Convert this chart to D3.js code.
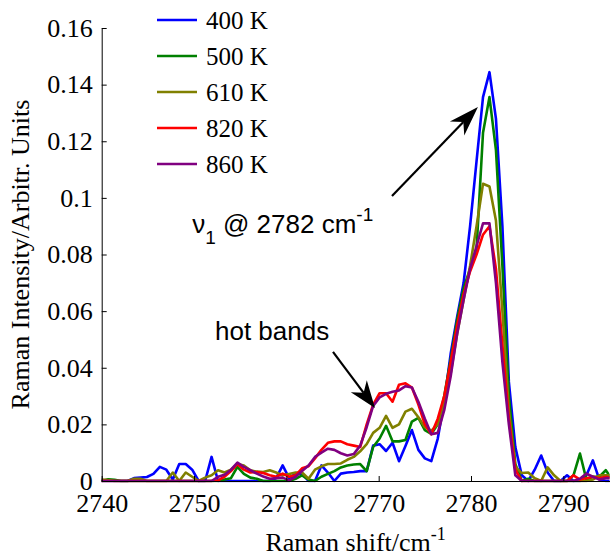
<!DOCTYPE html>
<html><head><meta charset="utf-8">
<script src="https://cdn.jsdelivr.net/npm/d3@7/dist/d3.min.js"></script>
<style>html,body{margin:0;padding:0;background:#fff;}svg{display:block;}</style>
</head><body>
<script>
// ---------- data ----------
const shift = [
 2740.0,2740.7,2741.4,2742.1,2742.8,2743.5,2744.2,2744.9,2745.6,2746.3,
 2747.0,2747.7,2748.4,2749.1,2749.8,2750.5,2751.2,2751.9,2752.6,2753.3,
 2754.0,2754.7,2755.4,2756.1,2756.8,2757.5,2758.2,2758.9,2759.6,2760.3,
 2761.0,2761.7,2762.4,2763.1,2763.8,2764.5,2765.2,2765.9,2766.6,2767.3,
 2768.0,2768.7,2769.4,2770.1,2770.8,2771.5,2772.2,2772.9,2773.6,2774.3,
 2775.0,2775.7,2776.4,2777.1,2777.8,2778.5,2779.2,2779.9,2780.6,2781.3,
 2782.0,2782.7,2783.4,2784.1,2784.8,2785.5,2786.2,2786.9,2787.6,2788.3,
 2789.0,2789.7,2790.4,2791.1,2791.8,2792.5,2793.2,2793.9,2794.6,2795.3];

const k400 = [
 0,0,0,0,0,0.001,0.0012,0.0014,0.0025,0.005,
 0.004,0.0005,0.006,0.006,0.004,0,0,0.0085,0,0,
 0,0,0,0,0,0,0,0.001,0.0055,0.001,
 0.0026,0.0026,0,0,0.0055,0.003,0,0.0026,0.003,0.0032,
 0.0035,0.0035,0.0125,0.013,0.0106,0.0135,0.007,0.0124,0.018,0.011,
 0.008,0.007,0.015,0.028,0.045,0.058,0.07,0.09,0.113,0.1356,
 0.1444,0.128,0.09,0.035,0.012,0.002,0,0.004,0.009,0.003,
 0,0,0.002,0,0,0.002,0.0073,0.0005,0,0];

const k500 = [
 0,0.0006,0.0004,0,0,0,0,0,0,0,
 0,0,0,0,0,0,0,0,0,0.0005,
 0.001,0.005,0.0025,0.0012,0.0008,0,0,0,0,0,
 0.0008,0.002,0.0005,0,0.0015,0.0025,0.0035,0.0048,0.0055,0.0058,
 0.006,0.0035,0.012,0.015,0.0195,0.014,0.014,0.0145,0.021,0.0223,
 0.018,0.0166,0.02,0.03,0.043,0.057,0.068,0.075,0.082,0.123,
 0.1356,0.117,0.076,0.03,0.006,0,0.0008,0,0,0,
 0,0,0,0.002,0.0097,0.0005,0.0015,0.0015,0.0038,0.0005];

const k610 = [
 0.0005,0.0003,0,0,0,0.0008,0.0008,0,0,0,
 0,0.003,0,0.003,0.0015,0,0.0012,0.002,0.0038,0.003,
 0.004,0.006,0.0055,0.0038,0.0033,0.0032,0.0038,0.003,0.002,0.0025,
 0.003,0.003,0.0008,0.004,0.0052,0.006,0.006,0.0062,0.0075,0.0085,
 0.0105,0.013,0.017,0.0188,0.023,0.0188,0.02,0.0245,0.0255,0.0225,
 0.019,0.0178,0.02,0.028,0.038,0.052,0.064,0.076,0.09,0.105,
 0.104,0.092,0.06,0.025,0.005,0.0028,0.003,0.001,0,0.0048,
 0.002,0,0,0,0,0,0.0005,0.002,0.002,0.002];

const k820 = [
 0,0,0,0,0,0,0,0,0,0,
 0,0,0,0,0,0,0,0,0.0002,0.0015,
 0.0035,0.006,0.004,0.003,0.0032,0.0028,0.002,0.0015,0.0026,0.0015,
 0.002,0.0045,0.0052,0.008,0.011,0.0135,0.014,0.014,0.013,0.0125,
 0.012,0.02,0.027,0.031,0.031,0.028,0.034,0.0345,0.033,0.027,
 0.02,0.0165,0.022,0.03,0.042,0.055,0.066,0.074,0.08,0.087,
 0.09,0.075,0.048,0.022,0.004,0,0,0,0,0,
 0,0,0,0.002,0.0005,0.001,0.0015,0.001,0.0015,0.001];

const k860 = [
 0,0,0,0,0,0,0,0,0,0,
 0,0,0,0,0,0,0,0,0.0015,0.0022,
 0.004,0.0065,0.005,0.0038,0.0026,0.0016,0.0008,0.001,0.0012,0.0002,
 0.0015,0.0035,0.0055,0.0085,0.01,0.0114,0.011,0.0098,0.009,0.0095,
 0.0125,0.019,0.0265,0.0295,0.0308,0.0315,0.032,0.0335,0.033,0.028,
 0.022,0.0165,0.017,0.025,0.037,0.052,0.064,0.075,0.083,0.091,
 0.091,0.07,0.042,0.02,0.002,0,0,0,0,0,
 0,0,0,0,0.0008,0.0026,0.0015,0.0005,0.001,0.001];

const seriesNames = ["400 K","500 K","610 K","820 K","860 K"];
const seriesColors = ["#0000ff","#008000","#808000","#ff0000","#800080"];
const seriesValues = [k400,k500,k610,k820,k860];
const xTicks = [2740,2750,2760,2770,2780,2790];
const yTicks = [0,0.02,0.04,0.06,0.08,0.1,0.12,0.14,0.16];
const yTickLabels = ["0","0.02","0.04","0.06","0.08","0.1","0.12","0.14","0.16"];

// ---------- layout ----------
const W = 616, H = 559;
const svg = d3.select("body").append("svg").attr("width",W).attr("height",H);
const x = d3.scaleLinear().domain([2740,2795]).range([101.7,609.5]);
const y = d3.scaleLinear().domain([0,0.16]).range([481,28]);
const serif = "'Liberation Serif','Times New Roman',serif";
const sans = "'Liberation Sans',Arial,sans-serif";

svg.append("defs").append("clipPath").attr("id","plotclip")
  .append("rect").attr("x",x(2740)).attr("y",y(0.16)-2)
  .attr("width",x(2795)-x(2740)).attr("height",y(0)-y(0.16)+3.5);

// series lines
const line = d3.line().x((d,i)=>x(shift[i])).y(d=>y(d));
const g = svg.append("g").attr("clip-path","url(#plotclip)");
seriesValues.forEach((vals,si)=>{
  g.append("path").attr("d",line(vals)).attr("fill","none")
   .attr("stroke",seriesColors[si]).attr("stroke-width",2.6)
   .attr("stroke-linejoin","round").attr("stroke-linecap","round");
});

// axes
const yAxis = d3.axisLeft(y).tickValues(yTicks).tickFormat((d,i)=>yTickLabels[i])
  .tickSizeInner(-5).tickSizeOuter(0).tickPadding(9);
const xAxis = d3.axisBottom(x).tickValues(xTicks).tickFormat(d3.format("d"))
  .tickSizeInner(-5).tickSizeOuter(0).tickPadding(13);
const gy = svg.append("g").attr("transform",`translate(${x(2740)},0)`).call(yAxis);
const gx = svg.append("g").attr("transform",`translate(0,${y(0)})`).call(xAxis);
[gx,gy].forEach(a=>{
  a.selectAll("path,line").attr("stroke","#000").attr("stroke-width",1);
  a.selectAll("text").attr("font-family",serif).attr("font-size",26).attr("fill","#000");
});

// axis titles
const xt = svg.append("text").attr("x",(x(2740)+x(2795))/2).attr("y",551)
  .attr("text-anchor","middle").attr("font-family",serif).attr("font-size",26).attr("fill","#000");
xt.append("tspan").text("Raman shift/cm");
xt.append("tspan").attr("dy",-11).attr("font-size",18).text("-1");

svg.append("text").attr("transform",`translate(29,${(y(0)+y(0.16))/2}) rotate(-90)`)
  .attr("text-anchor","middle").attr("font-family",serif).attr("font-size",26).attr("fill","#000")
  .text("Raman Intensity/Arbitr. Units");

// legend
const lg = svg.append("g");
seriesNames.forEach((n,i)=>{
  const ly = 20 + 36*i;
  lg.append("line").attr("x1",157).attr("x2",197).attr("y1",ly).attr("y2",ly)
    .attr("stroke",seriesColors[i]).attr("stroke-width",2.6);
  lg.append("text").attr("x",206).attr("y",ly+9).attr("font-family",serif)
    .attr("font-size",25).attr("fill","#000").text(n);
});

// annotations
function arrow(x0,y0,x1,y1,len,half){
  const dx=x1-x0, dy=y1-y0, L=Math.hypot(dx,dy), ux=dx/L, uy=dy/L, px=-uy, py=ux;
  const bx=x1-ux*len, by=y1-uy*len;
  const nx=x1-ux*len*0.7, ny=y1-uy*len*0.7;
  svg.append("line").attr("x1",x0).attr("y1",y0).attr("x2",nx).attr("y2",ny)
    .attr("stroke","#000").attr("stroke-width",2.2);
  svg.append("path").attr("d",`M${x1},${y1}L${bx+px*half},${by+py*half}L${nx},${ny}L${bx-px*half},${by-py*half}Z`)
    .attr("fill","#000");
}
arrow(x(2765.05),y(0.0456),x(2769.6),y(0.0258),27,10);
arrow(x(2771.44),y(0.1007),x(2780.75),y(0.1321),30,10);

svg.append("text").attr("x",x(2752.27)).attr("y",y(0.0498)).attr("font-family",sans)
  .attr("font-size",26).attr("fill","#000").text("hot bands");

const nu = svg.append("text").attr("x",x(2749.8)).attr("y",y(0.0876)).attr("font-family",sans)
  .attr("font-size",26).attr("fill","#000");
nu.append("tspan").text("ν");
nu.append("tspan").attr("dy",11).attr("font-size",19).text("1");
nu.append("tspan").attr("dy",-11).text(" @ 2782 cm");
nu.append("tspan").attr("dy",-12).attr("font-size",19).text("-1");
</script>
</body></html>
